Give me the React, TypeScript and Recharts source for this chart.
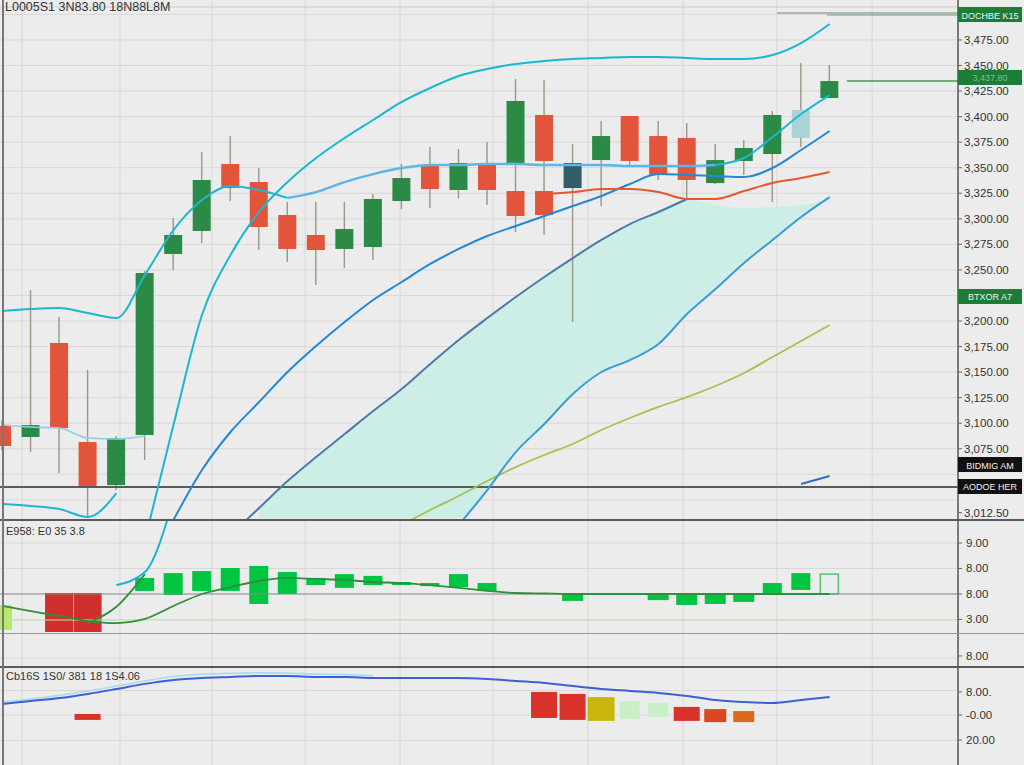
import React from 'react';
import { ComposedChart, Bar, Line, Area, XAxis, YAxis, CartesianGrid, ReferenceLine } from 'recharts';

const N_SLOTS = 34;
const N = 30;
const at = (start: number, vals: (number | null)[]) => {
  const a: (number | null)[] = new Array(N).fill(null);
  vals.forEach((v, k) => { a[start + k] = v; });
  return a;
};

// ---------- main price panel ----------
const open = [3097.3, 3086.5, 3178.5, 3081.6, 3039.5, 3088.5, 3265.6, 3288.1, 3353.6, 3336.0, 3303.7, 3284.2, 3270.5, 3272.4, 3317.4, 3352.7, 3328.2, 3354.6, 3354.6, 3401.6, 3354.6, 3357.5, 3400.6, 3381.0, 3379.1, 3335.0, 3356.6, 3363.4, 3379.1, 3418.2];
const close = [3077.7, 3098.2, 3095.3, 3037.6, 3085.5, 3247.0, 3284.2, 3338.0, 3330.1, 3292.0, 3270.5, 3269.5, 3290.0, 3319.4, 3339.9, 3329.2, 3354.6, 3328.2, 3415.3, 3356.6, 3330.1, 3381.0, 3356.6, 3342.9, 3338.0, 3357.5, 3369.3, 3401.6, 3406.5, 3434.8];
const high = [3103.1, 3230.3, 3203.9, 3152.1, 3087.5, 3248.9, 3300.8, 3365.4, 3381.0, 3349.7, 3316.4, 3316.4, 3316.4, 3324.3, 3353.6, 3370.3, 3368.3, 3375.2, 3436.8, 3435.8, 3373.2, 3395.7, 3400.6, 3395.7, 3393.7, 3373.2, 3377.1, 3405.5, 3452.5, 3450.5];
const low = [3073.8, 3071.8, 3051.3, 3007.2, 3034.6, 3064.0, 3249.9, 3276.3, 3317.4, 3269.5, 3257.7, 3235.2, 3251.9, 3259.7, 3309.6, 3310.6, 3320.0, 3313.5, 3287.1, 3284.2, 3199.0, 3312.5, 3352.7, 3338.0, 3320.4, 3334.0, 3342.9, 3316.4, 3370.3, 3418.2];
const ghostHi = at(18, [3327.2, 3327.2, null, null, null, null, null, 3340.9]);
const ghostLo = at(18, [3302.7, 3303.7, null, null, null, null, null, 3335.0]);

const lineA = [3209.8, 3211.7, 3212.7, 3207.8, 3202.9, 3245.0, 3289.0, 3318.4, 3332.1, 3328.2, 3320.4, 3326.2, 3336.0, 3343.8, 3349.7, 3352.7, 3352.7, 3353.6, 3353.6, 3352.7, 3352.7, 3352.7, 3351.7, 3351.7, 3351.7, 3352.7, 3359.5, 3380.0, 3402.5, 3421.1];
const lineM = at(0, [3098.2, 3096.3, 3095.3, 3085.5, 3084.5, 3087.5]);
const lineL = at(0, [3020.9, 3019.0, 3016.0, 3008.2, 3031.7]);
const lineB = at(5, [2985.7, 3098.2, 3205.9, 3264.6, 3306.7, 3336.0, 3359.5, 3379.1, 3396.7, 3414.3, 3428.0, 3439.7, 3446.6, 3451.5, 3454.4, 3456.4, 3457.3, 3458.3, 3458.3, 3457.3, 3456.4, 3456.4, 3460.3, 3472.0, 3490.6]);
const blue = at(5, [2951.5, 3005.3, 3054.2, 3091.4, 3120.7, 3150.1, 3175.5, 3199.0, 3220.6, 3238.2, 3255.8, 3270.5, 3283.2, 3293.0, 3302.7, 3312.5, 3322.3, 3334.1, 3343.8, 3342.9, 3341.9, 3340.9, 3349.7, 3367.3, 3385.9]);
const steel = at(8, [2990.6, 3017.0, 3043.4, 3066.9, 3089.4, 3111.9, 3133.5, 3157.9, 3181.4, 3202.9, 3223.5, 3243.1, 3261.6, 3279.3, 3294.9, 3306.7, 3319.4]);
const cloudTop = at(9, [3017.0, 3043.4, 3066.9, 3089.4, 3111.9, 3133.5, 3157.9, 3181.4, 3202.9, 3223.5, 3243.1, 3261.6, 3279.3, 3294.9, 3306.7, 3319.4, 3313.5, 3310.6, 3311.6, 3313.5, 3318.4]);
const cloudBot = at(9, [3007.2, 3007.2, 3007.2, 3007.2, 3007.2, 3007.2, 3007.2, 3007.2, 3034.6, 3071.8, 3099.2, 3128.6, 3150.1, 3161.8, 3177.5, 3206.9, 3231.3, 3256.8, 3279.3, 3301.8, 3318.4]);
const blue2 = at(16, [3000.4, 3034.6, 3071.8, 3099.2, 3128.6, 3150.1, 3161.8, 3177.5, 3206.9, 3231.3, 3256.8, 3279.3, 3301.8, 3321.3]);
const olive = at(14, [3000.4, 3015.1, 3028.8, 3043.4, 3057.1, 3068.9, 3079.7, 3093.4, 3105.1, 3115.9, 3125.6, 3136.4, 3149.1, 3164.8, 3180.4, 3196.1]);
const redLine = at(19, [3324.3, 3326.2, 3329.2, 3329.2, 3326.2, 3319.4, 3319.4, 3327.2, 3335.0, 3339.9, 3345.8]);
const blueTail = at(28, [3040.5, 3048.3]);

const PRICE_DOMAIN = [3005.3, 3514.1];
const priceTicks = [3475, 3450, 3425, 3400, 3375, 3350, 3325, 3300, 3275, 3250, 3200, 3175, 3150, 3125, 3100, 3075, 3012.5];
const gridPrice = [3500, 3475, 3450, 3425, 3400, 3375, 3350, 3325, 3300, 3275, 3250, 3225, 3200, 3175, 3150, 3125, 3100, 3075, 3050, 3025];
const boxValues = [3499.4, 3437.8, 3223.5, 3059.1, 3037.6];
const boxTexts = ['DOCHBE K15', '3,437.80', 'BTXOR A7', 'BIDMIG AM', 'AODOE HER'];
const boxKinds = ['green', 'green', 'green', 'black', 'black'];
const lastPrice = 3037.6;
const currentPrice = 3434.8;
// time axis positions (same 0..33 index scale as the bars' slots)
const TIME_DOMAIN = [0, 33];
const gridTimes = [1.16, 4.49, 7.62, 10.79, 14.02, 17.18, 20.41, 23.65, 26.84, 30.08];

// ---------- panel 2 ----------
const h2Top = [-0.43, null, 0.04, 0.04, null, 0.63, 0.82, 0.90, 1.02, 1.10, 0.86, 0.63, 0.78, 0.71, 0.47, 0.43, 0.78, 0.43, null, null, 0, null, null, 0, 0, 0, 0, 0.43, 0.82, 0.78];
const h2Bot = [-1.41, null, -1.49, -1.49, null, 0.12, -0.04, 0.12, 0.12, -0.39, 0, 0.35, 0.24, 0.35, 0.35, 0.31, 0.27, 0.12, null, null, -0.27, null, null, -0.24, -0.43, -0.39, -0.31, 0.04, 0.16, 0];
const h2Kind = ['lime', null, 'red', 'red', null, 'up', 'up', 'up', 'up', 'up', 'up', 'up', 'up', 'up', 'up', 'up', 'up', 'up', null, null, 'dn', null, null, 'dn', 'dn', 'dn', 'dn', 'up', 'up', 'hollow'];
const signal = [-0.47, -0.67, -0.86, -1.06, -1.14, -0.98, -0.47, 0, 0.27, 0.51, 0.63, 0.59, 0.55, 0.47, 0.43, 0.35, 0.24, 0.12, 0.04, 0.02, 0, 0, 0, 0, 0, 0, 0, 0, 0, 0];
const steepG = at(3, [-1.14, -0.5, 0.78]);
const steepC = at(4, [0.35, 0.86, 3.69]);
const P2_DOMAIN = [-2.863, 2.902];
const p2Ticks = [2, 1, 0, -1, -2.43];
const p2Labels = ['9.00', '8.00', '8.00', '3.00', '8.00'];
const p2Grid = [2, 1, 0, -1, -2.51];

// ---------- panel 3 ----------
const h3Top = at(3, [0.04, null, null, null, null, null, null, null, null, null, null, null, null, null, null, null, 0.94, 0.86, 0.73, 0.57, 0.49, 0.33, 0.24, 0.16]);
const h3Bot = at(3, [-0.2, null, null, null, null, null, null, null, null, null, null, null, null, null, null, null, -0.12, -0.2, -0.24, -0.16, -0.08, -0.24, -0.29, -0.29]);
const h3Kind: (string | null)[] = [null, null, null, 'red', null, null, null, null, null, null, null, null, null, null, null, null, null, null, null, 'red', 'red', 'olive', 'pale', 'pale', 'red', 'rust', 'orange', null, null, null];
const osc = [0.45, 0.57, 0.69, 0.86, 1.06, 1.27, 1.43, 1.51, 1.55, 1.59, 1.59, 1.55, 1.55, 1.51, 1.51, 1.51, 1.51, 1.47, 1.39, 1.31, 1.18, 1.06, 0.98, 0.90, 0.78, 0.61, 0.53, 0.49, 0.61, 0.73];
const oscFast = at(0, [0.53, 0.65, 0.8, 0.98, 1.18, 1.39, 1.57, 1.67, 1.7, 1.72, 1.71, 1.67, 1.65, 1.6]);
const P3_DOMAIN = [-2.041, 1.959];
const p3Ticks = [0.94, 0, -1.02];
const p3Labels = ['8.00.', '-0.00', '20.00'];
const p3Grid = [1.0, 0, -1.04];

const rows = Array.from({ length: N_SLOTS }, (_, i) => {
  const has = i < N;
  return {
    i,
    o: has ? open[i] : null,
    c: has ? close[i] : null,
    h: has ? high[i] : null,
    l: has ? low[i] : null,
    rng: has ? [low[i], high[i]] : null,
    gh: has ? ghostHi[i] : null,
    gl: has ? ghostLo[i] : null,
    a1: has && i <= 10 ? lineA[i] : null,
    a2: has && i >= 10 && i <= 25 ? lineA[i] : null,
    a3: has && i >= 25 ? lineA[i] : null,
    m: has ? lineM[i] : null,
    lb: has ? lineL[i] : null,
    b: has ? lineB[i] : null,
    bl: has ? blue[i] : null,
    st: has ? steel[i] : null,
    cloud: has && cloudTop[i] != null ? [cloudBot[i], cloudTop[i]] : null,
    b2: has ? blue2[i] : null,
    ol: has ? olive[i] : null,
    rd: has ? redLine[i] : null,
    bt: has ? blueTail[i] : null,
    r2: has && h2Top[i] != null ? [h2Bot[i], h2Top[i]] : null,
    k2: has ? h2Kind[i] : null,
    sig: has ? signal[i] : null,
    sg: has ? steepG[i] : null,
    sc: has ? steepC[i] : null,
    r3: has && h3Top[i] != null ? [h3Bot[i], h3Top[i]] : null,
    k3: has ? h3Kind[i] : null,
    osc: has ? osc[i] : null,
    oscF: has ? oscFast[i] : null,
  };
});

const GREEN = '#2c8a47';
const RED = '#e2553b';
const WICK = '#9a9784';
const SPECIAL: Record<number, string> = { 20: '#2f5e66', 28: '#a9d4d6' };

function Candle(p: any) {
  const d = p.payload;
  if (!d || d.h == null || !isFinite(p.y)) return null;
  const top = Math.min(p.y, p.y + p.height);
  const hgt = Math.abs(p.height);
  const k = hgt / (d.h - d.l);
  const py = (v: number) => top + (d.h - v) * k;
  const cx = p.x + p.width / 2;
  const bw = 18;
  const up = d.c >= d.o;
  const col = SPECIAL[d.i] || (up ? GREEN : RED);
  const b0 = py(Math.max(d.o, d.c));
  const b1 = py(Math.min(d.o, d.c));
  return (
    <g>
      <line x1={cx} x2={cx} y1={top} y2={top + hgt} stroke={WICK} strokeWidth={1.4} />
      {d.gh != null && (
        <rect x={cx - bw / 2} y={py(d.gh)} width={bw} height={py(d.gl) - py(d.gh)} fill={RED} />
      )}
      <rect x={cx - bw / 2} y={b0} width={bw} height={Math.max(1.5, b1 - b0)} fill={col} />
    </g>
  );
}

const H2: Record<string, any> = {
  lime: { fill: '#b7e86c', w: 20 },
  red: { fill: '#d0302c', w: 28 },
  up: { fill: '#00c540', w: 19 },
  dn: { fill: '#00c540', w: 21 },
  hollow: { fill: 'none', stroke: '#52c070', w: 18 },
};
function Hist2(p: any) {
  const d = p.payload;
  if (!d || d.k2 == null || !isFinite(p.y)) return null;
  const st = H2[d.k2];
  const top = Math.min(p.y, p.y + p.height);
  const h = Math.max(1, Math.abs(p.height));
  const cx = p.x + p.width / 2;
  return <rect x={cx - st.w / 2} y={top} width={st.w} height={h} fill={st.fill} stroke={st.stroke || 'none'} strokeWidth={1.5} />;
}

const H3: Record<string, any> = {
  red: { fill: '#d8322a', w: 26 },
  olive: { fill: '#c9b70e', w: 27 },
  pale: { fill: '#c9efc6', w: 20 },
  rust: { fill: '#d9481f', w: 22 },
  orange: { fill: '#dc6a1a', w: 21 },
};
function Hist3(p: any) {
  const d = p.payload;
  if (!d || d.k3 == null || !isFinite(p.y)) return null;
  const st = H3[d.k3];
  const top = Math.min(p.y, p.y + p.height);
  const h = Math.max(1, Math.abs(p.height));
  const cx = p.x + p.width / 2;
  return <rect x={cx - st.w / 2} y={top} width={st.w} height={h} fill={st.fill} />;
}

const fmt = (v: number) => v.toLocaleString('en-US', { minimumFractionDigits: 2, maximumFractionDigits: 2 });

function PriceTick(p: any) {
  const v = p.payload.value;
  const bi = boxValues.findIndex((b) => Math.abs(b - v) < 0.001);
  if (bi >= 0) {
    const green = boxKinds[bi] === 'green';
    return (
      <g>
        <rect x={p.x - 6} y={p.y - 8} width={64} height={15} fill={green ? '#1b7d36' : '#111'} />
        <text x={p.x + 26} y={p.y + 3.5} fontSize={9} textAnchor="middle" fill={green && bi === 1 ? '#7fbf8c' : '#f2f2f2'}>{boxTexts[bi]}</text>
      </g>
    );
  }
  return <text x={p.x} y={p.y + 4} fontSize={11.5} fill="#333">{fmt(v)}</text>;
}

function makeLabelTick(labels: string[]) {
  return (p: any) => (
    <text x={p.x + 2} y={p.y + 4} fontSize={11.5} fill="#333">{labels[p.index]}</text>
  );
}

const chartProps = { width: 1036, data: rows, margin: { top: 0, right: 0, bottom: 0, left: 0 } };
const line = { dot: false, activeDot: false, isAnimationActive: false, type: 'monotone' as const, connectNulls: false };

export default function App() {
  return (
    <div style={{ position: 'fixed', left: 0, top: 0, width: 1024, height: 765, overflow: 'hidden', background: '#ececec', fontFamily: "'Liberation Sans', Arial, sans-serif" }}>
      <div style={{ position: 'absolute', left: -12, top: 0 }}>
        <ComposedChart {...chartProps} height={520}>
          <XAxis dataKey="i" type="category" hide />
          <XAxis xAxisId="t" dataKey="i" type="number" domain={TIME_DOMAIN} hide allowDataOverflow />
          <YAxis yAxisId="p" orientation="right" width={66} type="number" domain={PRICE_DOMAIN} allowDataOverflow ticks={[...priceTicks, ...boxValues]} interval={0} tick={<PriceTick />} tickSize={4} tickLine={{ stroke: '#666' }} axisLine={{ stroke: '#555', strokeWidth: 1.5 }} />
          <CartesianGrid xAxisId="t" yAxisId="p" stroke="#d8d8d8" horizontalValues={gridPrice} verticalValues={gridTimes} />
          <ReferenceLine yAxisId="p" y={3507.3} stroke="#cdcdcd" />
          <ReferenceLine xAxisId="t" yAxisId="p" segment={[{ x: 26.84, y: 3501.4 }, { x: 33, y: 3501.4 }]} stroke="#a0a0a0" strokeWidth={1.5} />
          <ReferenceLine xAxisId="t" yAxisId="p" segment={[{ x: 28.54, y: 3499.4 }, { x: 33, y: 3499.4 }]} stroke="#5aa86a" strokeWidth={1.2} />
          <Area yAxisId="p" dataKey="cloud" stroke="none" fill="#cdeee6" fillOpacity={1} type="monotone" isAnimationActive={false} activeDot={false} />
          <ReferenceLine yAxisId="p" y={lastPrice} stroke="#5a5a5a" strokeWidth={2} />
          <Line yAxisId="p" dataKey="ol" stroke="#a7c24c" strokeWidth={1.8} {...line} />
          <Line yAxisId="p" dataKey="b2" stroke="#3a9bd8" strokeWidth={2} {...line} />
          <Line yAxisId="p" dataKey="st" stroke="#4f78ab" strokeWidth={2} {...line} />
          <Line yAxisId="p" dataKey="bl" stroke="#2288d6" strokeWidth={2} {...line} />
          <Line yAxisId="p" dataKey="rd" stroke="#e4582c" strokeWidth={2} {...line} />
          <Line yAxisId="p" dataKey="bt" stroke="#2d6fd0" strokeWidth={2} {...line} />
          <Line yAxisId="p" dataKey="lb" stroke="#1fb6d0" strokeWidth={2} {...line} />
          <Line yAxisId="p" dataKey="m" stroke="#8cd2e6" strokeWidth={1.6} {...line} />
          <Line yAxisId="p" dataKey="a1" stroke="#1fb6d0" strokeWidth={2} {...line} />
          <Line yAxisId="p" dataKey="a2" stroke="#5bb6ea" strokeWidth={2.4} {...line} />
          <Line yAxisId="p" dataKey="a3" stroke="#1fb6d0" strokeWidth={2} {...line} />
          <Bar yAxisId="p" dataKey="rng" barSize={18} shape={(p: any) => <Candle {...p} />} isAnimationActive={false} />
          <Line yAxisId="p" dataKey="b" stroke="#19b7d3" strokeWidth={2} {...line} />
          <ReferenceLine xAxisId="t" yAxisId="p" segment={[{ x: 29.22, y: currentPrice }, { x: 33, y: currentPrice }]} stroke="#3f9a52" strokeWidth={1.6} />
        </ComposedChart>
      </div>

      <div style={{ position: 'absolute', left: -12, top: 520 }}>
        <ComposedChart {...chartProps} height={147}>
          <XAxis dataKey="i" type="category" hide />
          <XAxis xAxisId="t" dataKey="i" type="number" domain={TIME_DOMAIN} hide allowDataOverflow />
          <YAxis yAxisId="v" orientation="right" width={66} type="number" domain={P2_DOMAIN} allowDataOverflow ticks={p2Ticks} interval={0} tick={makeLabelTick(p2Labels)} tickSize={4} tickLine={{ stroke: '#666' }} axisLine={{ stroke: '#555', strokeWidth: 1.5 }} />
          <CartesianGrid xAxisId="t" yAxisId="v" stroke="#d8d8d8" horizontalValues={p2Grid} verticalValues={gridTimes} />
          <ReferenceLine yAxisId="v" y={-1.02} stroke="#b9e3ad" strokeWidth={1.2} />
          <ReferenceLine yAxisId="v" y={0} stroke="#8c8c8c" strokeWidth={1} />
          <Bar yAxisId="v" dataKey="r2" barSize={20} shape={(p: any) => <Hist2 {...p} />} isAnimationActive={false} />
          <Line yAxisId="v" dataKey="sig" stroke="#2f8f3a" strokeWidth={1.8} {...line} />
          <Line yAxisId="v" dataKey="sg" stroke="#2f8f3a" strokeWidth={1.8} {...line} />
          <Line yAxisId="v" dataKey="sc" stroke="#22b3d2" strokeWidth={2} {...line} />
        </ComposedChart>
      </div>

      <div style={{ position: 'absolute', left: -12, top: 667 }}>
        <ComposedChart {...chartProps} height={98}>
          <XAxis dataKey="i" type="category" hide />
          <XAxis xAxisId="t" dataKey="i" type="number" domain={TIME_DOMAIN} hide allowDataOverflow />
          <YAxis yAxisId="v" orientation="right" width={66} type="number" domain={P3_DOMAIN} allowDataOverflow ticks={p3Ticks} interval={0} tick={makeLabelTick(p3Labels)} tickSize={4} tickLine={{ stroke: '#666' }} axisLine={{ stroke: '#555', strokeWidth: 1.5 }} />
          <CartesianGrid xAxisId="t" yAxisId="v" stroke="#d8d8d8" horizontalValues={p3Grid} verticalValues={gridTimes} />
          <Bar yAxisId="v" dataKey="r3" barSize={22} shape={(p: any) => <Hist3 {...p} />} isAnimationActive={false} />
          <Line yAxisId="v" dataKey="oscF" stroke="#a6dcee" strokeWidth={1.6} {...line} />
          <Line yAxisId="v" dataKey="osc" stroke="#3c5fd6" strokeWidth={2} {...line} />
        </ComposedChart>
      </div>

      <div style={{ position: 'absolute', left: 0, top: 519, width: 1024, height: 2, background: '#5a5a5a' }} />
      <div style={{ position: 'absolute', left: 0, top: 633, width: 1024, height: 1, background: '#9a9a9a' }} />
      <div style={{ position: 'absolute', left: 0, top: 666, width: 1024, height: 2, background: '#5a5a5a' }} />
      <div style={{ position: 'absolute', left: 2, top: 0, width: 2, height: 765, background: '#777' }} />

      <div style={{ position: 'absolute', left: 5, top: 0, fontSize: 12.5, color: '#333', whiteSpace: 'nowrap' }}>L0005S1 3N83.80 18N88L8M</div>
      <div style={{ position: 'absolute', left: 6, top: 525, fontSize: 11, color: '#333', whiteSpace: 'nowrap' }}>E958: E0 35 3.8</div>
      <div style={{ position: 'absolute', left: 6, top: 670, fontSize: 11, color: '#333', whiteSpace: 'nowrap' }}>Cb16S 1S0/ 381 18 1S4.06</div>
    </div>
  );
}
